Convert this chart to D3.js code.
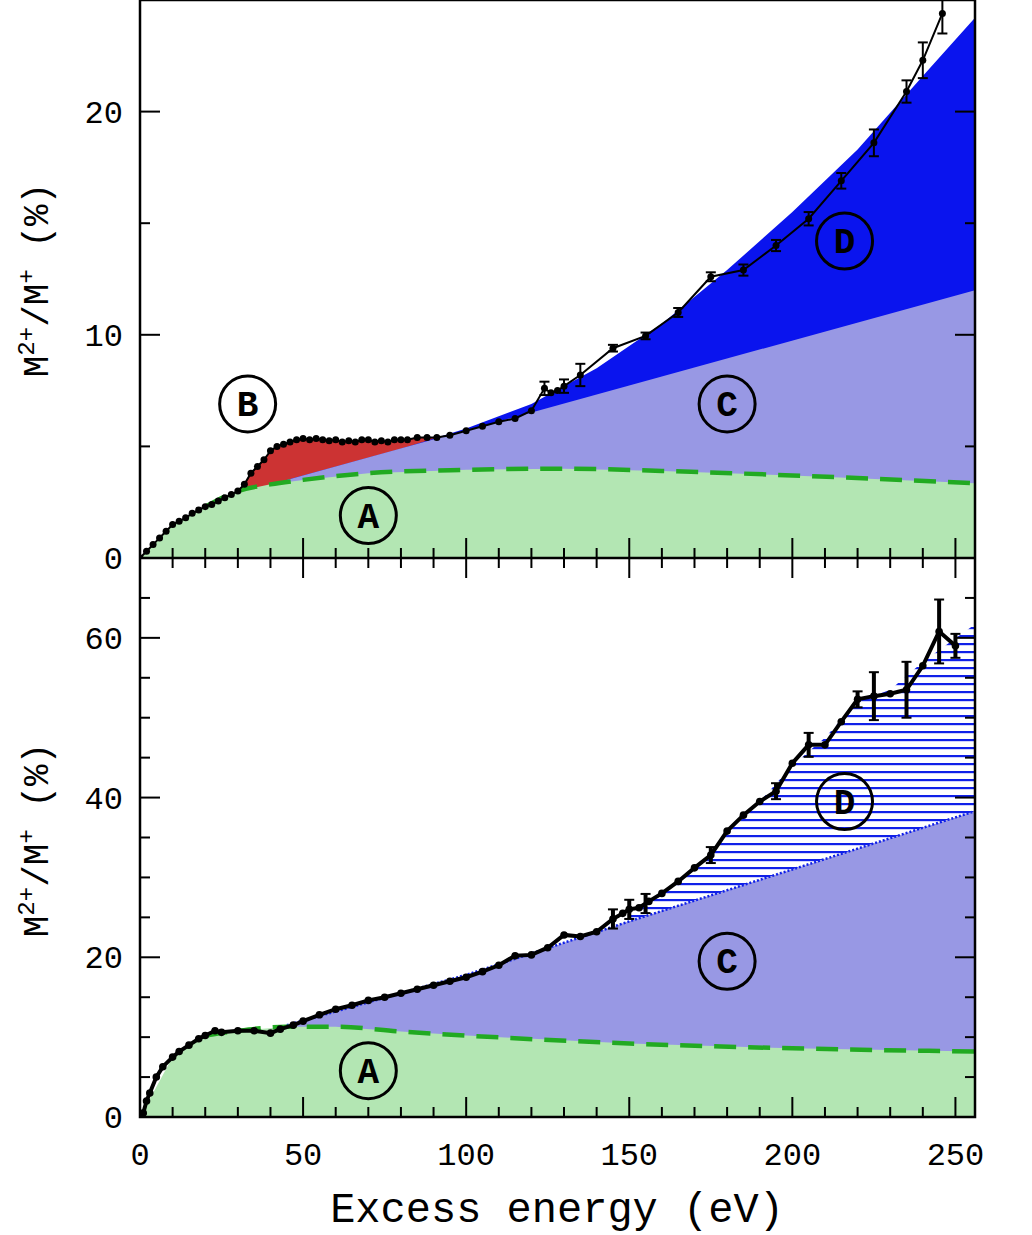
<!DOCTYPE html><html><head><meta charset="utf-8">
<script src="https://cdn.jsdelivr.net/npm/d3@7"></script>
<style>body{margin:0;background:#fff}text{font-family:"Liberation Mono","DejaVu Sans Mono",monospace}</style></head><body>
<svg id="c" width="1032" height="1235"></svg>
<script>
// ---- top panel data ----
const topData=[[0,0],[2,0.3],[4,0.6],[6,0.9],[8,1.2],[10,1.5],[12,1.65],[14,1.8],[16,2.0],[18,2.15],[20,2.3],[22,2.4],[24,2.55],[26,2.7],[28,2.85],[30,3.0],[32,3.3],[34,3.8],[36,4.1],[38,4.4],[40,4.8],[42,5.0],[44,5.1],[46,5.2],[48,5.3],[50,5.35],[52,5.3],[54,5.35],[56,5.3],[58,5.25],[60,5.3],[62,5.2],[64,5.25],[66,5.2],[68,5.3],[70,5.3],[72,5.2],[74,5.25],[76,5.2],[78,5.3],[80,5.3],[82,5.3],[85,5.4],[88,5.4],[91,5.4],[95,5.5],[100,5.7],[105,5.9],[110,6.1],[115,6.25],[120,6.6],[124,7.6],[126,7.4],[128,7.5],[130,7.7],[135,8.2],[145,9.4],[155,9.95],[165,11.0],[175,12.6],[185,12.9],[195,14.0],[205,15.2],[215,16.9],[225,18.6],[235,20.9],[240,22.3],[246,24.4]];
const topErr=[[124,0.3],[130,0.3],[135,0.5],[145,0.15],[155,0.15],[165,0.2],[175,0.2],[185,0.25],[195,0.25],[205,0.3],[215,0.35],[225,0.6],[235,0.5],[240,0.8],[246,0.9]];
const topA=[[0,0],[10,1.5],[20,2.3],[30,3.0],[40,3.3],[50,3.5],[70,3.8],[100,3.95],[130,4.0],[160,3.9],[200,3.7],[256,3.35]];
const topC=[[45,3.5],[256,12.0]];
const topD=[[45,3.5],[80,4.9],[100,5.8],[120,6.9],[140,8.5],[160,10.5],[180,12.9],[200,15.5],[220,18.3],[240,21.6],[256,24.2]];
// ---- bottom panel data ----
const botData=[[0,0],[1,0.5],[2,2],[3,3],[5,5],[7,6.3],[10,7.5],[12,8.2],[15,9],[18,9.8],[20,10.2],[23,10.8],[25,10.6],[30,10.8],[35,10.8],[40,10.5],[43,11.0],[47,11.5],[50,12.0],[55,12.8],[60,13.5],[65,14.0],[70,14.6],[75,15.0],[80,15.5],[85,16.0],[90,16.5],[95,17.0],[100,17.5],[105,18.2],[110,19.0],[115,20.2],[120,20.3],[125,21.2],[130,22.8],[135,22.6],[140,23.2],[145,24.8],[148,25.5],[150,26.0],[153,26.2],[156,27.0],[160,28.0],[165,29.5],[170,31.2],[175,32.8],[180,35.8],[185,37.8],[190,39.5],[195,40.8],[200,44.3],[205,46.6],[210,46.6],[215,49.5],[220,52.3],[225,52.7],[230,53.0],[235,53.5],[240,56.5],[245,60.8],[250,59.0]];
const botErr=[[145,1.2],[150,1.2],[155,1.2],[175,1],[195,1],[205,1.5],[220,1],[225,3],[235,3.5],[245,4],[250,1.5]];
const botA=[[0,0],[10,7.5],[20,10.2],[30,10.8],[45,11.3],[60,11.3],[80,10.7],[100,10.2],[150,9.2],[200,8.6],[256,8.2]];
const botC=[[45,11.5],[100,17.8],[150,24.5],[200,31.0],[256,38.3]];
const botD=[[150,26],[160,28],[170,31],[180,35.5],[190,39.5],[200,44],[210,47.5],[220,52],[230,53.5],[240,57],[256,61.7]];
const xTicks=[0,50,100,150,200,250];

const svg=d3.select("#c");
const x=d3.scaleLinear().domain([0,256]).range([140,975]);
const yT=d3.scaleLinear().domain([0,25]).range([558,0]);
const yB=d3.scaleLinear().domain([0,70]).range([1117,558]);
const defs=svg.append("defs");
const pat=defs.append("pattern").attr("id","hatch").attr("patternUnits","userSpaceOnUse").attr("width",10).attr("height",8);
pat.append("rect").attr("y",3).attr("width",10).attr("height",2.2).attr("fill","#1020e8");
defs.append("clipPath").attr("id","ct").append("rect").attr("x",140).attr("y",0).attr("width",835).attr("height",558);
defs.append("clipPath").attr("id","cb").append("rect").attr("x",140).attr("y",558).attr("width",835).attr("height",559);

function interp(arr,v){for(let i=1;i<arr.length;i++){if(v<=arr[i][0]){const a=arr[i-1],b=arr[i];return a[1]+(b[1]-a[1])*(v-a[0])/(b[0]-a[0]);}}return arr[arr.length-1][1];}

function panel(y,clip,data,err,A,C,D,opts){
  const g=svg.append("g").attr("clip-path",`url(#${clip})`);
  const area0=d3.area().x(d=>x(d[0])).y0(y(0)).y1(d=>y(d[1]));
  if(opts.red){
    const seg=data.filter(d=>d[0]>=30&&d[0]<=95);
    g.append("path").datum(seg).attr("d",area0).attr("fill","#cc3333");
  }
  if(opts.hatch){
    // hatched D between C line and D upper
    const xs=d3.range(150,256.5,2);
    const pts=xs.map(v=>[v,interp(C,v),interp(D,v)]);
    g.append("path").datum(pts).attr("d",d3.area().x(d=>x(d[0])).y0(d=>y(d[1])).y1(d=>y(d[2]))).attr("fill","url(#hatch)");
  } else {
    g.append("path").datum(D).attr("d",area0).attr("fill","#0a14ee");
  }
  g.append("path").datum(C).attr("d",area0).attr("fill","#9898e4");
  g.append("path").datum(A).attr("d",area0).attr("fill","#b3e6b3");
  if(opts.hatch){
    g.append("path").datum(C).attr("d",d3.line().x(d=>x(d[0])).y(d=>y(d[1]))).attr("fill","none").attr("stroke","#1020e8").attr("stroke-width",2.5).attr("stroke-dasharray","2,2");
  }
  g.append("path").datum(A.filter(d=>d[0]>=20)).attr("d",d3.line().x(d=>x(d[0])).y(d=>y(d[1])).curve(d3.curveMonotoneX)).attr("fill","none").attr("stroke","#22aa22").attr("stroke-width",4.5).attr("stroke-dasharray","22,12");
  g.append("path").datum(data).attr("d",d3.line().x(d=>x(d[0])).y(d=>y(d[1]))).attr("fill","none").attr("stroke","#000").attr("stroke-width",opts.lw);
  g.selectAll(".eb").data(err).enter().append("g").each(function(d){
    const v=interp(data,d[0]);const s=d3.select(this);
    s.append("line").attr("x1",x(d[0])).attr("x2",x(d[0])).attr("y1",y(v-d[1])).attr("y2",y(v+d[1])).attr("stroke","#000").attr("stroke-width",opts.lw);
    [v-d[1],v+d[1]].forEach(e=>s.append("line").attr("x1",x(d[0])-5).attr("x2",x(d[0])+5).attr("y1",y(e)).attr("y2",y(e)).attr("stroke","#000").attr("stroke-width",2));
  });
  g.selectAll(".pt").data(data).enter().append("circle").attr("cx",d=>x(d[0])).attr("cy",d=>y(d[1])).attr("r",opts.r).attr("fill","#000");
}
panel(yT,"ct",topData,topErr,topA,topC,topD,{red:true,lw:2,r:3.5});
panel(yB,"cb",botData,botErr,botA,botC,botD,{hatch:true,lw:4,r:3.8});

// axes
function yAxis(y,maj,min,top,bot){
  const g=svg.append("g");
  d3.range(0,y.domain()[1]+0.01,min).forEach(v=>{
    const big=Math.abs(v/maj-Math.round(v/maj))<1e-6, L=big?20:10, py=y(v);
    if(py<top-1||py>bot+1)return;
    g.append("line").attr("x1",140).attr("x2",140+L).attr("y1",py).attr("y2",py).attr("stroke","#000").attr("stroke-width",2);
    g.append("line").attr("x1",975).attr("x2",975-L).attr("y1",py).attr("y2",py).attr("stroke","#000").attr("stroke-width",2);
    if(big)g.append("text").attr("x",123).attr("y",py+11).attr("text-anchor","end").attr("font-size",32).text(v);
  });
}
yAxis(yT,10,5,0,558);
yAxis(yB,20,5,558,1117);
function xt(py,dir){
  d3.range(0,256,10).forEach(v=>{const big=v%50===0,L=big?20:10;
    svg.append("line").attr("x1",x(v)).attr("x2",x(v)).attr("y1",py).attr("y2",py+dir*L).attr("stroke","#000").attr("stroke-width",2);});
}
xt(1117,-1);xt(558,-1);xt(558,1);
xTicks.forEach(v=>svg.append("text").attr("x",x(v)).attr("y",1165).attr("text-anchor","middle").attr("font-size",32).text(v));
svg.append("rect").attr("x",140).attr("y",0).attr("width",835).attr("height",1117).attr("fill","none").attr("stroke","#000").attr("stroke-width",2.5);
svg.append("line").attr("x1",140).attr("x2",975).attr("y1",558).attr("y2",558).attr("stroke","#000").attr("stroke-width",2.5);

// labels
[["B",33,6.9,yT],["C",180,6.9,yT],["D",216,14.2,yT],["A",70,1.9,yT],["D",216,39.5,yB],["C",180,19.5,yB],["A",70,5.8,yB]].forEach(l=>{
  const cx=x(l[1]),cy=l[3](l[2]);
  svg.append("circle").attr("cx",cx).attr("cy",cy).attr("r",28).attr("fill","none").attr("stroke","#000").attr("stroke-width",3);
  svg.append("text").attr("x",cx).attr("y",cy+12).attr("text-anchor","middle").attr("font-size",36).attr("font-weight","bold").text(l[0]);
});
[280,840].forEach(cy=>{
  const t=svg.append("text").attr("transform",`translate(48,${cy}) rotate(-90)`).attr("text-anchor","middle").attr("font-size",36);
  t.append("tspan").text("M");t.append("tspan").attr("dy",-14).attr("font-size",24).text("2+");
  t.append("tspan").attr("dy",14).text("/M");t.append("tspan").attr("dy",-14).attr("font-size",24).text("+");
  t.append("tspan").attr("dy",14).text(" (%)");
});
svg.append("text").attr("x",557).attr("y",1222).attr("text-anchor","middle").attr("font-size",42).text("Excess energy (eV)");
</script></body></html>
